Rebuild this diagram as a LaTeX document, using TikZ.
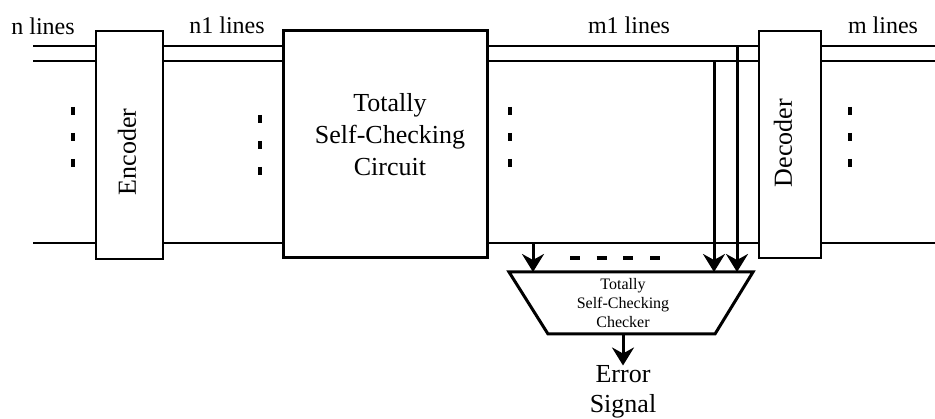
\documentclass[tikz,border=0pt]{standalone}
\usepackage{fontspec}
\setmainfont{Liberation Serif}
\usetikzlibrary{arrows.meta}
\begin{document}
\begin{tikzpicture}[x=1pt,y=-1pt,
  lbl/.style={inner sep=0pt,font=\fontsize{24}{28}\selectfont},
  big/.style={inner sep=0pt,align=center,font=\fontsize{26}{32}\selectfont},
  thinbox/.style={draw,line width=1.5pt},
  thickbox/.style={draw,line width=3pt},
  bus/.style={line width=2pt},
  busthick/.style={line width=2.6pt},
  dots/.style={line width=3.2pt,dash pattern=on 8pt off 18pt},
  sig/.style={line width=3pt,-{Stealth[length=18pt,width=22pt,inset=6pt]}}]
\useasboundingbox (0,0) rectangle (935,419);

% blocks
\draw[thinbox] (96,31) rectangle (163,259);
\draw[thickbox] (283,31) rectangle (487,258);
\draw[thinbox] (759,31) rectangle (821,258);
\draw[thickbox,line join=miter] (509,272) -- (753,272) -- (715,334) -- (548,334) -- cycle;

% block labels
\node[big,rotate=90] (enc) at (127,152) {Encoder};
\node[big] (tsc) at (390,135) {Totally\\Self-Checking\\Circuit};
\node[big,rotate=90] (dec) at (783,143) {Decoder};
\node[inner sep=0pt,align=center,font=\fontsize{16}{19}\selectfont] (chk) at (623,303) {Totally\\Self-Checking\\Checker};
\node[big,font=\fontsize{26}{30}\selectfont] (err) at (623,392) {Error\\Signal};

% bus labels
\node[lbl] (ln) at (43,26) {n lines};
\node[lbl] (ln1) at (227,25) {n1 lines};
\node[lbl] (lm1) at (629,25) {m1 lines};
\node[lbl] (lm) at (883,25) {m lines};

% input lines
\draw[bus] (33,46) -- (96,46);
\draw[line width=1.6pt] (33,61) -- (96,61);
\draw[bus] (33,243) -- (96,243);
\draw[dots] (73,107) -- (73,175);

% encoded lines
\draw[bus] (163,46) -- (283,46);
\draw[busthick] (163,61) -- (283,61);
\draw[busthick] (163,243) -- (283,243);
\draw[dots] (260,115) -- (260,180);

% circuit output lines
\draw[bus] (487,46) -- (759,46);
\draw[busthick] (487,61) -- (759,61);
\draw[busthick] (487,243) -- (759,243);
\draw[dots] (510,107) -- (510,175);

% decoded lines
\draw[bus] (821,46) -- (935,46);
\draw[line width=1.6pt] (821,61) -- (935,61);
\draw[bus] (821,243) -- (935,243);
\draw[dots] (850,107) -- (850,175);

% taps into the checker
\coordinate (t1) at (533,243);
\coordinate (t2) at (714,61);
\coordinate (t3) at (737,46);
\coordinate (c1) at (533,272);
\coordinate (c2) at (714,272);
\coordinate (c3) at (737,272);
\draw[sig] (t1) -- (c1);
\draw[sig] (t2) -- (c2);
\draw[sig] (t3) -- (c3);
\draw[line width=4pt,dash pattern=on 10pt off 16.7pt] (570,258) -- (662,258);

% error output
\coordinate (co) at (623,334);
\draw[sig] (co) -- (err.north);
\end{tikzpicture}
\end{document}
